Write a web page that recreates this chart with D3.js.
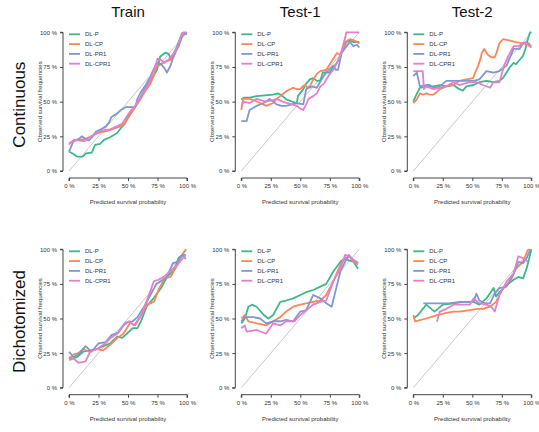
<!DOCTYPE html>
<html><head><meta charset="utf-8">
<script src="https://cdn.jsdelivr.net/npm/d3@7/dist/d3.min.js"></script>
<style>body{margin:0;background:#fff}svg{display:block}text{font-family:"Liberation Sans",Arial,sans-serif}</style>
</head><body><svg id="c" width="539" height="432"></svg>
<script>
const seriesNames = ["DL-P","DL-CP","DL-PR1","DL-CPR1"];
const seriesColors = ["#3cb88a","#f8875a","#7f97d2","#e47fcf"];
const colTitles = ["Train","Test-1","Test-2"];
const rowTitles = ["Continuous","Dichotomized"];
const tickValues = [0,25,50,75,100];
const tickLabels = ["0 %","25 %","50 %","75 %","100 %"];

// Continuous / Train
const contTrainP = [[0,14],[3.7,12.3],[7.1,10.3],[11.6,10.3],[14.4,12.7],[19.3,13.2],[22.1,18.8],[26.3,19.5],[29.7,22.4],[34.8,24.3],[40.5,27.2],[43.9,30.8],[47.6,34.4],[50.4,40.4],[53.3,44],[56.1,46.4],[60.3,52.4],[66,62],[70.3,66.8],[74.5,72.8],[77.3,82.5],[81.6,85.3],[84.4,84.4],[86.4,80.5],[91.5,89.7],[95.8,99.3],[100,99.3]];
const contTrainCP = [[0,20],[3.7,21.4],[8,22.6],[13,23],[17,24.3],[22,26.5],[27,28],[33,29],[38,30.5],[43,32],[47,34],[50,38],[53,42],[56,46],[60,51],[64,57],[69,63],[72,69],[74,75],[78,77],[82,79],[86,80],[90,86],[93,90],[96,98],[100,99]];
const contTrainPR1 = [[0,14],[2,18],[4,22],[8,23],[11,25],[14,23],[17,22],[20,25],[23,28.5],[27,30],[31,32],[34,35],[36,39],[40,41],[44,44],[48,46],[52,46],[56,46],[58,52],[61,57],[65,62],[69,68],[72,74],[75,78],[78,77],[81,74],[83,71],[86,76],[88,81],[91,87],[94,93],[97,99],[100,99]];
const contTrainCPR1 = [[0,19],[2,21],[5,22.5],[9,22],[13,21.5],[17,24],[21,26],[25,28],[30,29.5],[35,30],[40,32],[45,34],[48,38],[52,43],[56,47],[60,52],[64,58],[68,64],[71,71],[74,78],[75,81],[78,80],[81,78],[84,80],[87,83],[90,86],[93,92],[95,97],[97,100],[100,100]];
// Continuous / Test-1
const contT1P = [[0,51.6],[2,52.8],[8,53],[13,54],[20,54.5],[27,55],[31,56],[35,54],[38,51.6],[43,50],[47,49],[48,54],[52.5,59],[55,63],[58,66],[61,67],[64,65],[67,65],[69,71],[75,71],[78,75],[81,78],[84,83],[86,88],[89,93],[92,94],[95,93],[100,93]];
const contT1CP = [[0,44],[1.5,52],[7,52],[11,51],[16,49],[21,47],[24,48],[27,49],[30,52],[33,54],[36,56],[39,58],[44,60],[47,59],[50,59],[52,61],[54,62],[56,60],[58,61],[61,66],[64,70],[67,72],[72,73],[75,77],[78,81],[81,85],[84,84],[86,88],[88,93],[92,95],[96,94],[100,92]];
const contT1PR1 = [[0,36],[4.5,36],[7,44],[13,47],[19,49],[24,52],[27,50],[30,48],[34,47],[38,47],[43,48],[47,49],[52.5,48],[55,59],[60,61],[64,60],[68,66],[72,71],[78,76],[80,73],[82,73],[85,85],[89,90],[92,93],[95,90],[98,91],[100,89]];
const contT1CPR1 = [[0,47],[2,50],[7,49],[13,52],[17,51],[21,50],[26,51],[30,52],[35,50],[39,49],[43,48],[47,47],[50,45],[52.5,44],[55,48],[57,52],[61,54],[64,56],[67,61],[70,63],[72,66],[75,70],[78,73],[81,78],[84,83],[86,90],[88,96],[89,100],[92,100],[100,100]];
// Continuous / Test-2
const contT2P = [[0,50],[2,54],[5.6,60],[11,61],[17,61],[22.5,62],[28,61],[34,62],[39,59],[42,58],[45,61],[51,62],[56,64],[62,65],[68,64],[73,65],[76,67],[79,71],[82,75],[85,78],[87,77],[90,80],[93,83],[95,88],[97,95],[99,100],[100,100]];
const contT2CP = [[0,49],[2.8,51.5],[5.6,56],[8.5,55],[11.3,56],[14,55],[16.9,55],[20,57],[22.5,59],[28,61],[34,62],[39,65],[45,66],[50.7,67],[52,70],[55,76],[57,81],[58,85],[60,88],[63,84],[66,82],[69,82],[70.4,85],[73,92],[76,95],[82,94],[87,93],[93,92],[97,91],[100,89]];
const contT2PR1 = [[0,68.5],[3,71],[5.6,61],[11,62],[14,62],[17,60],[22.5,61],[28,65],[34,65],[39,65],[45,65],[51,65],[56,66],[62,72],[68,71],[73,72],[79,76],[85,88],[90,88],[93,92],[96,93],[100,90]];
const contT2CPR1 = [[0,72],[8,72],[9,59],[11,61],[17,59],[22.5,60],[28,61],[34,64],[39,62],[48,64],[54,64],[59,62],[65,60],[68,64],[73,64],[77,76],[80,82],[85,90],[89,90],[93,92],[98,92],[99,90]];
// Dichotomized / Train
const dichTrainP = [[0,22],[2.3,21],[6.6,22],[12,26],[18,27],[24,28],[29,30],[35,32],[41,37],[45,36],[49,39],[54,43],[58,43],[61,48],[66,59],[72,65],[78,72],[83,80],[89,85],[93,94],[96,96],[99,96]];
const dichTrainCP = [[0,21],[4,24],[8,25],[12,28],[17,26],[22,28],[29,27],[35,31],[41,36],[46,39],[52,47],[56,45],[61,52],[66,60],[72,62],[76,71],[81,79],[86,80],[92,89],[96,96],[99,100]];
const dichTrainPR1 = [[0,26],[4,22],[9,25],[14,30],[19,26],[25,32],[31,33],[36,38],[42,40],[48,47],[54,48],[58,51],[64,59],[69,67],[74,75],[78,77],[83,80],[88,90],[92,91],[96,96],[99,93]];
const dichTrainCPR1 = [[0,20],[4,21],[8,18],[14,19],[18,26],[24,28],[29,31],[35,36],[41,39],[46,45],[51,48],[55,45],[61,52],[66,63],[72,77],[76,78],[82,81],[88,86],[92,89],[96,93],[99,96]];
// Dichotomized / Test-1
const dichT1P = [[0,46.5],[3,50],[6,58.5],[9,60],[13,58.5],[19,52.5],[23,50],[27,52.5],[33,62],[38,63],[44,64.5],[50,67],[55,69],[61,70.6],[67,73],[72,75],[78,84],[84,91],[88,93.5],[91,92],[95,91],[99,86]];
const dichT1CP = [[0,50],[3,52.5],[6,48],[13,46.5],[21,45],[27,48],[33,51],[38,55],[44,58.5],[50,60],[55,61],[61,62],[67,63],[72,67],[78,77],[84,89],[88,93.5],[92,94.5],[95,91],[99,89]];
const dichT1PR1 = [[0,48],[3,51],[10,51],[16,50],[21,46.5],[27,48],[33,48],[38,49],[44,48],[50,55],[55,56],[61,67],[67,64.5],[72,61],[76.6,58.5],[79,67],[84,84],[88,91],[91,96],[95,92],[99,90]];
const dichT1CPR1 = [[0,43],[3,45],[4.5,40.5],[13,41.7],[21,39],[27,46.5],[33,45],[38,48],[45,48],[50,52.5],[55,56],[61,60],[67,62],[72,63],[78,77],[84,86],[88,96],[92,94.5],[96,92],[99,90]];
// Dichotomized / Test-2
const dichT2P = [[0,50],[4,52.5],[11,60],[18,55],[25,60],[34,61],[42,62],[51,62],[56,60],[62,64.5],[68,72],[70,66],[73,69],[79,74],[85,78],[89,80],[93,79],[96,86],[99,96],[100,100]];
const dichT2CP = [[0,52.5],[1.5,48],[11,50],[20,52.5],[28,54],[34,55],[39,55],[48,56],[54,57],[59,57],[65,58.5],[70,62],[76,72],[82,76.6],[87,86],[93,91],[97,99.5],[99,100]];
const dichT2PR1 = [[8.5,61],[20,61],[30,61],[40,62],[51,62],[53.5,68],[56,63],[61,61],[65,61],[69,68],[73,72],[79,73],[85,82.6],[89,91],[93,90],[96,93.5],[99,99.5]];
const dichT2CPR1 = [[20,47.7],[22.5,55],[28,57],[34,60],[39,60],[48,60],[51,64.5],[56,61],[62,60],[66,58.5],[69,55],[73,67],[79,76.6],[85,82.6],[89,95],[93,93.5],[97,91]];

const panels = [
  [[contTrainP,contTrainCP,contTrainPR1,contTrainCPR1],[contT1P,contT1CP,contT1PR1,contT1CPR1],[contT2P,contT2CP,contT2PR1,contT2CPR1]],
  [[dichTrainP,dichTrainCP,dichTrainPR1,dichTrainCPR1],[dichT1P,dichT1CP,dichT1PR1,dichT1CPR1],[dichT2P,dichT2CP,dichT2PR1,dichT2CPR1]]
];

const svg = d3.select("#c");
const colX0 = [69, 241.3, 413.3], plotW = 118;
const rowY = [[32.3,171],[249.3,387.7]];

colTitles.forEach((t,c)=>{
  svg.append("text").attr("x",colX0[c]+plotW/2).attr("y",17).attr("text-anchor","middle")
    .attr("font-size",15).attr("fill","#111").text(t);
});
rowTitles.forEach((t,r)=>{
  const cy=(rowY[r][0]+rowY[r][1])/2+3;
  svg.append("text").attr("transform",`translate(25,${cy}) rotate(-90)`).attr("text-anchor","middle")
    .attr("font-size",17).attr("fill","#111").text(t);
});

panels.forEach((row,r)=>{
  row.forEach((series,c)=>{
    const x = d3.scaleLinear().domain([0,100]).range([colX0[c], colX0[c]+plotW]);
    const y = d3.scaleLinear().domain([0,100]).range([rowY[r][1], rowY[r][0]]);
    const g = svg.append("g");
    // axes
    const xa = d3.axisBottom(x).tickValues(tickValues).tickFormat((d,i)=>tickLabels[i]).tickSize(3).tickPadding(3);
    const ya = d3.axisLeft(y).tickValues(tickValues).tickFormat((d,i)=>tickLabels[i]).tickSize(3).tickPadding(3);
    const gx = g.append("g").attr("transform",`translate(0,${rowY[r][1]+7})`).call(xa);
    const gy = g.append("g").attr("transform",`translate(${colX0[c]-6},0)`).call(ya);
    [gx,gy].forEach(a=>{
      a.select(".domain").attr("stroke","#444").attr("d", null);
      a.selectAll("line").attr("stroke","#444");
      a.selectAll("text").attr("font-size",6).attr("fill","#333").attr("font-family","'Liberation Sans',Arial,sans-serif");
    });
    gx.select(".domain").attr("d",`M${x(0)},3V0H${x(100)}V3`);
    gy.select(".domain").attr("d",`M-3,${y(0)}H0V${y(100)}H-3`);
    g.append("text").attr("x",colX0[c]+plotW/2).attr("y",rowY[r][1]+33).attr("text-anchor","middle")
      .attr("font-size",6).attr("fill","#333").text("Predicted survival probability");
    g.append("text").attr("transform",`translate(${colX0[c]-27},${(rowY[r][0]+rowY[r][1])/2}) rotate(-90)`)
      .attr("text-anchor","middle").attr("font-size",6).attr("fill","#333").text("Observed survival frequencies");
    // diagonal
    g.append("line").attr("x1",x(0)).attr("y1",y(0)).attr("x2",x(100)).attr("y2",y(100))
      .attr("stroke","#c8c8c8").attr("stroke-width",1);
    const line = d3.line().x(d=>x(d[0])).y(d=>y(Math.min(d[1],100)));
    series.forEach((s,i)=>{
      g.append("path").attr("d",line(s)).attr("fill","none").attr("stroke",seriesColors[i])
        .attr("stroke-width",1.8).attr("stroke-linejoin","round");
    });
    // legend
    seriesNames.forEach((n,i)=>{
      const ly = rowY[r][0]+2+i*9.8;
      g.append("line").attr("x1",x(0)).attr("x2",x(0)+11).attr("y1",ly).attr("y2",ly)
        .attr("stroke",seriesColors[i]).attr("stroke-width",1.8);
      g.append("text").attr("x",x(0)+16).attr("y",ly+2).attr("font-size",6).attr("fill","#333").text(n);
    });
  });
});
</script></body></html>
